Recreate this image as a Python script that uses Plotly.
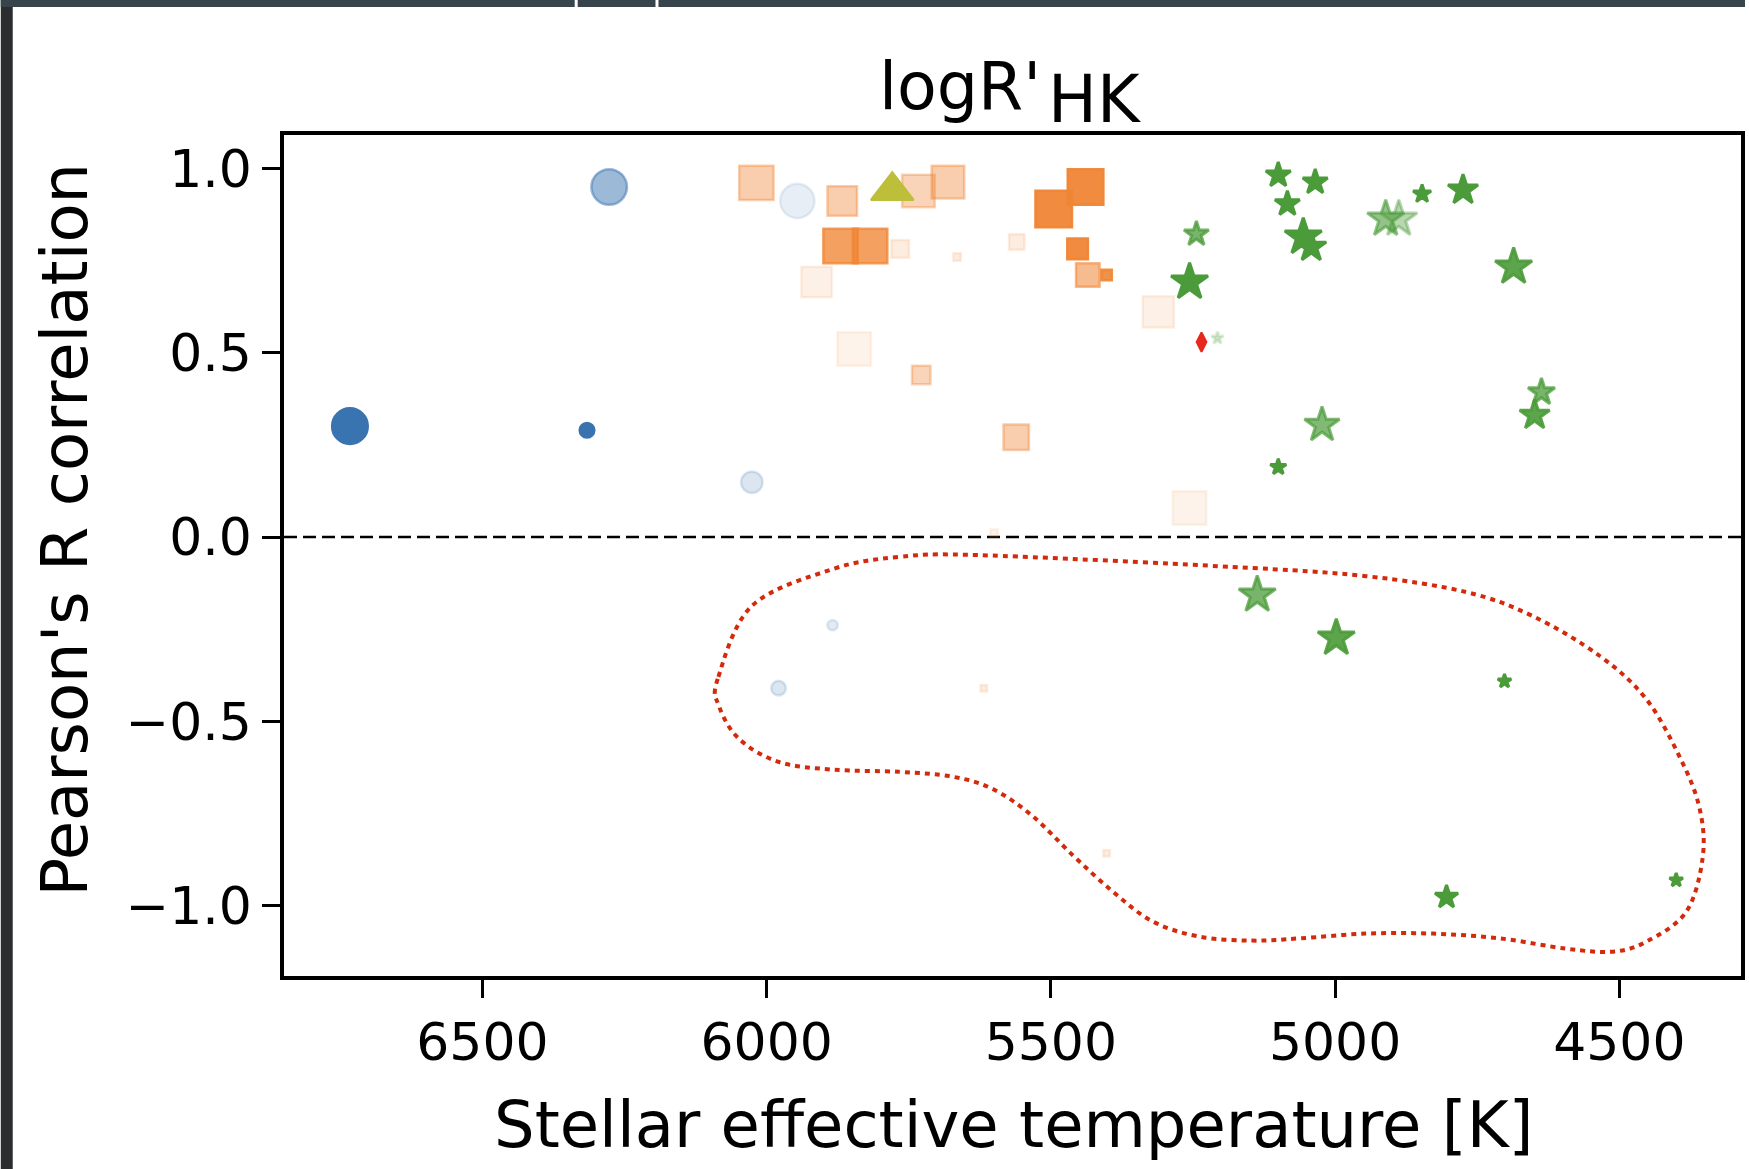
import plotly.graph_objects as go

# ---------------- data ----------------
blue_teff = [6733, 6277, 6316, 5946, 6026, 5884, 5979]
blue_r = [0.301, 0.950, 0.290, 0.912, 0.149, -0.239, -0.410]
blue_weight = [0.97, 0.97, 0.27, 0.93, 0.50, 0.13, 0.27]
blue_alpha = [1.0, 0.5, 1.0, 0.12, 0.18, 0.15, 0.18]

orange_teff = [6018, 5867, 5870, 5818, 5765, 5665, 5733, 5681, 5912, 5846, 5728, 5561,
               5560, 5495, 5439, 5453, 5435, 5402, 5311, 5256, 5600, 5618, 5402]
orange_r = [0.961, 0.912, 0.790, 0.790, 0.782, 0.760, 0.939, 0.963, 0.692, 0.510, 0.440, 0.271,
            0.801, 0.890, 0.950, 0.782, 0.711, 0.711, 0.611, 0.079, 0.011, -0.410, -0.858]
orange_weight = [0.93, 0.77, 0.93, 0.93, 0.37, 0.03, 0.87, 0.87, 0.80, 0.90, 0.40, 0.63,
                 0.30, 1.00, 0.97, 0.47, 0.57, 0.13, 0.83, 0.90, 0.03, 0.0, 0.0]
orange_alpha = [0.4, 0.4, 0.78, 0.78, 0.15, 0.15, 0.35, 0.4, 0.12, 0.1, 0.35, 0.4,
                0.15, 0.95, 0.95, 0.95, 0.55, 0.9, 0.12, 0.1, 0.1, 0.15, 0.15]

olive_teff = [5779]
olive_r = [0.94]
olive_weight = [1.0]
olive_alpha = [1.0]

green_teff = [5100, 5035, 5084, 5056, 5042, 5244, 5256, 5207, 4911, 4888, 4847, 4775,
              4686, 4637, 4649, 5023, 5100, 5137, 4998, 4702, 4804, 4400]
green_r = [0.982, 0.963, 0.904, 0.814, 0.787, 0.822, 0.692, 0.540, 0.863, 0.863, 0.931, 0.942,
           0.733, 0.393, 0.331, 0.304, 0.190, -0.157, -0.274, -0.391, -0.977, -0.931]
green_weight = [0.53, 0.53, 0.53, 0.93, 0.70, 0.53, 0.93, 0.10, 0.93, 0.93, 0.30, 0.70,
                0.93, 0.60, 0.70, 0.87, 0.23, 0.93, 0.93, 0.15, 0.47, 0.15]
green_alpha = [1, 1, 1, 1, 1, 0.75, 1, 0.2, 0.6, 0.4, 1, 1,
               0.9, 0.75, 0.9, 0.7, 1, 0.75, 0.9, 1, 1, 1]

red_teff = [5235]
red_r = [0.529]
red_weight = [0.13]
red_alpha = [1.0]

# outline of the highlighted region (Teff, R)
blob_teff = [6086, 6084, 6049, 5979, 5884, 5767, 5674, 5603, 5533, 5461, 5391, 5321, 5239,
             5146, 5063, 4946, 4828, 4710, 4593, 4512, 4453, 4382, 4353, 4360, 4395, 4453,
             4535, 4653, 4770, 4946, 5181, 5626, 5767, 5884, 6026]
blob_r = [-0.385, -0.458, -0.547, -0.610, -0.631, -0.637, -0.650, -0.683, -0.756, -0.864,
          -0.962, -1.043, -1.084, -1.095, -1.089, -1.076, -1.076, -1.089, -1.117, -1.125,
          -1.098, -1.016, -0.864, -0.729, -0.593, -0.439, -0.322, -0.214, -0.149, -0.106,
          -0.081, -0.049, -0.054, -0.087, -0.187]

x_ticks = [6500, 6000, 5500, 5000, 4500]
y_ticks = [-1.0, -0.5, 0.0, 0.5, 1.0]
y_ticktext = ["\u22121.0", "\u22120.5", "0.0", "0.5", "1.0"]

# ---------------- figure ----------------
FONT = "DejaVu Sans"
W, H = 1749, 1169
L, R, T, B = 284, 1745, 135, 976
PW, PH = R - L, B - T


def px(xp):
    return (xp - L) / PW


def py(yp):
    return (B - yp) / PH


def rgba(hexc, a):
    h = hexc.lstrip("#")
    r, g, b = int(h[0:2], 16), int(h[2:4], 16), int(h[4:6], 16)
    return f"rgba({r},{g},{b},{a})"


def width_of(w):
    return 9 + 30 * w


fig = go.Figure()


def add_group(teff, r, weight, alpha, color, symbol, lw, size_fn, name):
    sizes = [size_fn(width_of(w)) for w in weight]
    fig.add_trace(go.Scatter(
        x=teff, y=r, mode="markers", name=name, showlegend=False,
        marker=dict(symbol=symbol, size=sizes, opacity=1,
                    color=[rgba(color, a) for a in alpha],
                    line=dict(color=[rgba(color, a) for a in alpha], width=lw)),
    ))


add_group(blue_teff, blue_r, blue_weight, blue_alpha, "#3a74b0", "circle", 2.5,
          lambda wd: wd - 2.5, "blue")
add_group(orange_teff, orange_r, orange_weight, orange_alpha, "#ef8535", "square", 2.5,
          lambda wd: wd - 2.5, "orange")
add_group(olive_teff, olive_r, olive_weight, olive_alpha, "#bdbe3a", "triangle-up", 2,
          lambda wd: wd * 0.95, "olive")
add_group(green_teff, green_r, green_weight, green_alpha, "#4b9b3a", "star", 3,
          lambda wd: wd / 1.33, "green")
add_group(red_teff, red_r, red_weight, red_alpha, "#e8281e", "diamond-tall", 2,
          lambda wd: wd + 1, "red")

# zero line
fig.add_shape(type="line", xref="paper", yref="y", x0=0, x1=1, y0=0, y1=0,
              line=dict(color="black", width=2.5, dash="13px,6px"), layer="below")

# closed smooth outline (Catmull-Rom -> cubic Bezier)
n = len(blob_teff)
pts = list(zip(blob_teff, blob_r))
path = f"M {pts[0][0]},{pts[0][1]}"
for i in range(n):
    p0 = pts[(i - 1) % n]
    p1 = pts[i]
    p2 = pts[(i + 1) % n]
    p3 = pts[(i + 2) % n]
    c1 = (p1[0] + (p2[0] - p0[0]) / 6, p1[1] + (p2[1] - p0[1]) / 6)
    c2 = (p2[0] - (p3[0] - p1[0]) / 6, p2[1] - (p3[1] - p1[1]) / 6)
    path += f" C {c1[0]:.2f},{c1[1]:.4f} {c2[0]:.2f},{c2[1]:.4f} {p2[0]},{p2[1]}"
path += " Z"
fig.add_shape(type="path", xref="x", yref="y", path=path,
              line=dict(color="#d42a0c", width=4, dash="5px,5px"), layer="above")

# screenshot frame
fig.add_shape(type="rect", xref="paper", yref="paper", x0=px(0), x1=px(12), y0=py(H), y1=py(0),
              fillcolor="#2b2d2f", line=dict(width=0), layer="above")
fig.add_shape(type="rect", xref="paper", yref="paper", x0=px(0), x1=px(W), y0=py(7), y1=py(0),
              fillcolor="#37444b", line=dict(width=0), layer="above")
for xl in (577, 658):
    fig.add_shape(type="line", xref="paper", yref="paper", x0=px(xl), x1=px(xl), y0=py(7), y1=py(0),
                  line=dict(color="white", width=3), layer="above")

# titles as annotations
fig.add_annotation(text="logR'", xref="paper", yref="paper", x=px(1045), y=py(86),
                   xanchor="right", yanchor="middle", showarrow=False,
                   font=dict(family=FONT, size=65, color="black"))
fig.add_annotation(text="HK", xref="paper", yref="paper", x=px(1048), y=py(99),
                   xanchor="left", yanchor="middle", showarrow=False,
                   font=dict(family=FONT, size=65, color="black"))
fig.add_annotation(text="Stellar effective temperature [K]", xref="paper", yref="paper",
                   x=px(1016), y=py(1125), xanchor="center", yanchor="middle", showarrow=False,
                   font=dict(family=FONT, size=64, color="black"))
fig.add_annotation(text="Pearson's R correlation", xref="paper", yref="paper",
                   x=px(64), y=py(530), xanchor="center", yanchor="middle", showarrow=False,
                   textangle=-90, font=dict(family=FONT, size=64, color="black"))

axis_common = dict(showline=True, linecolor="black", linewidth=3.5, mirror=True,
                   showgrid=False, zeroline=False, ticks="outside", ticklen=18, tickwidth=3,
                   tickcolor="black", tickfont=dict(family=FONT, size=52, color="black"))
fig.update_xaxes(range=[6849, 4286], tickvals=x_ticks, **axis_common)
fig.update_yaxes(range=[-1.191, 1.091], tickvals=y_ticks, ticktext=y_ticktext, **axis_common)

fig.update_layout(width=W, height=H, margin=dict(l=L, r=W - R, t=T, b=H - B, pad=0),
                  paper_bgcolor="white", plot_bgcolor="white",
                  font=dict(family=FONT, color="black"))

fig.write_html("out.html")
